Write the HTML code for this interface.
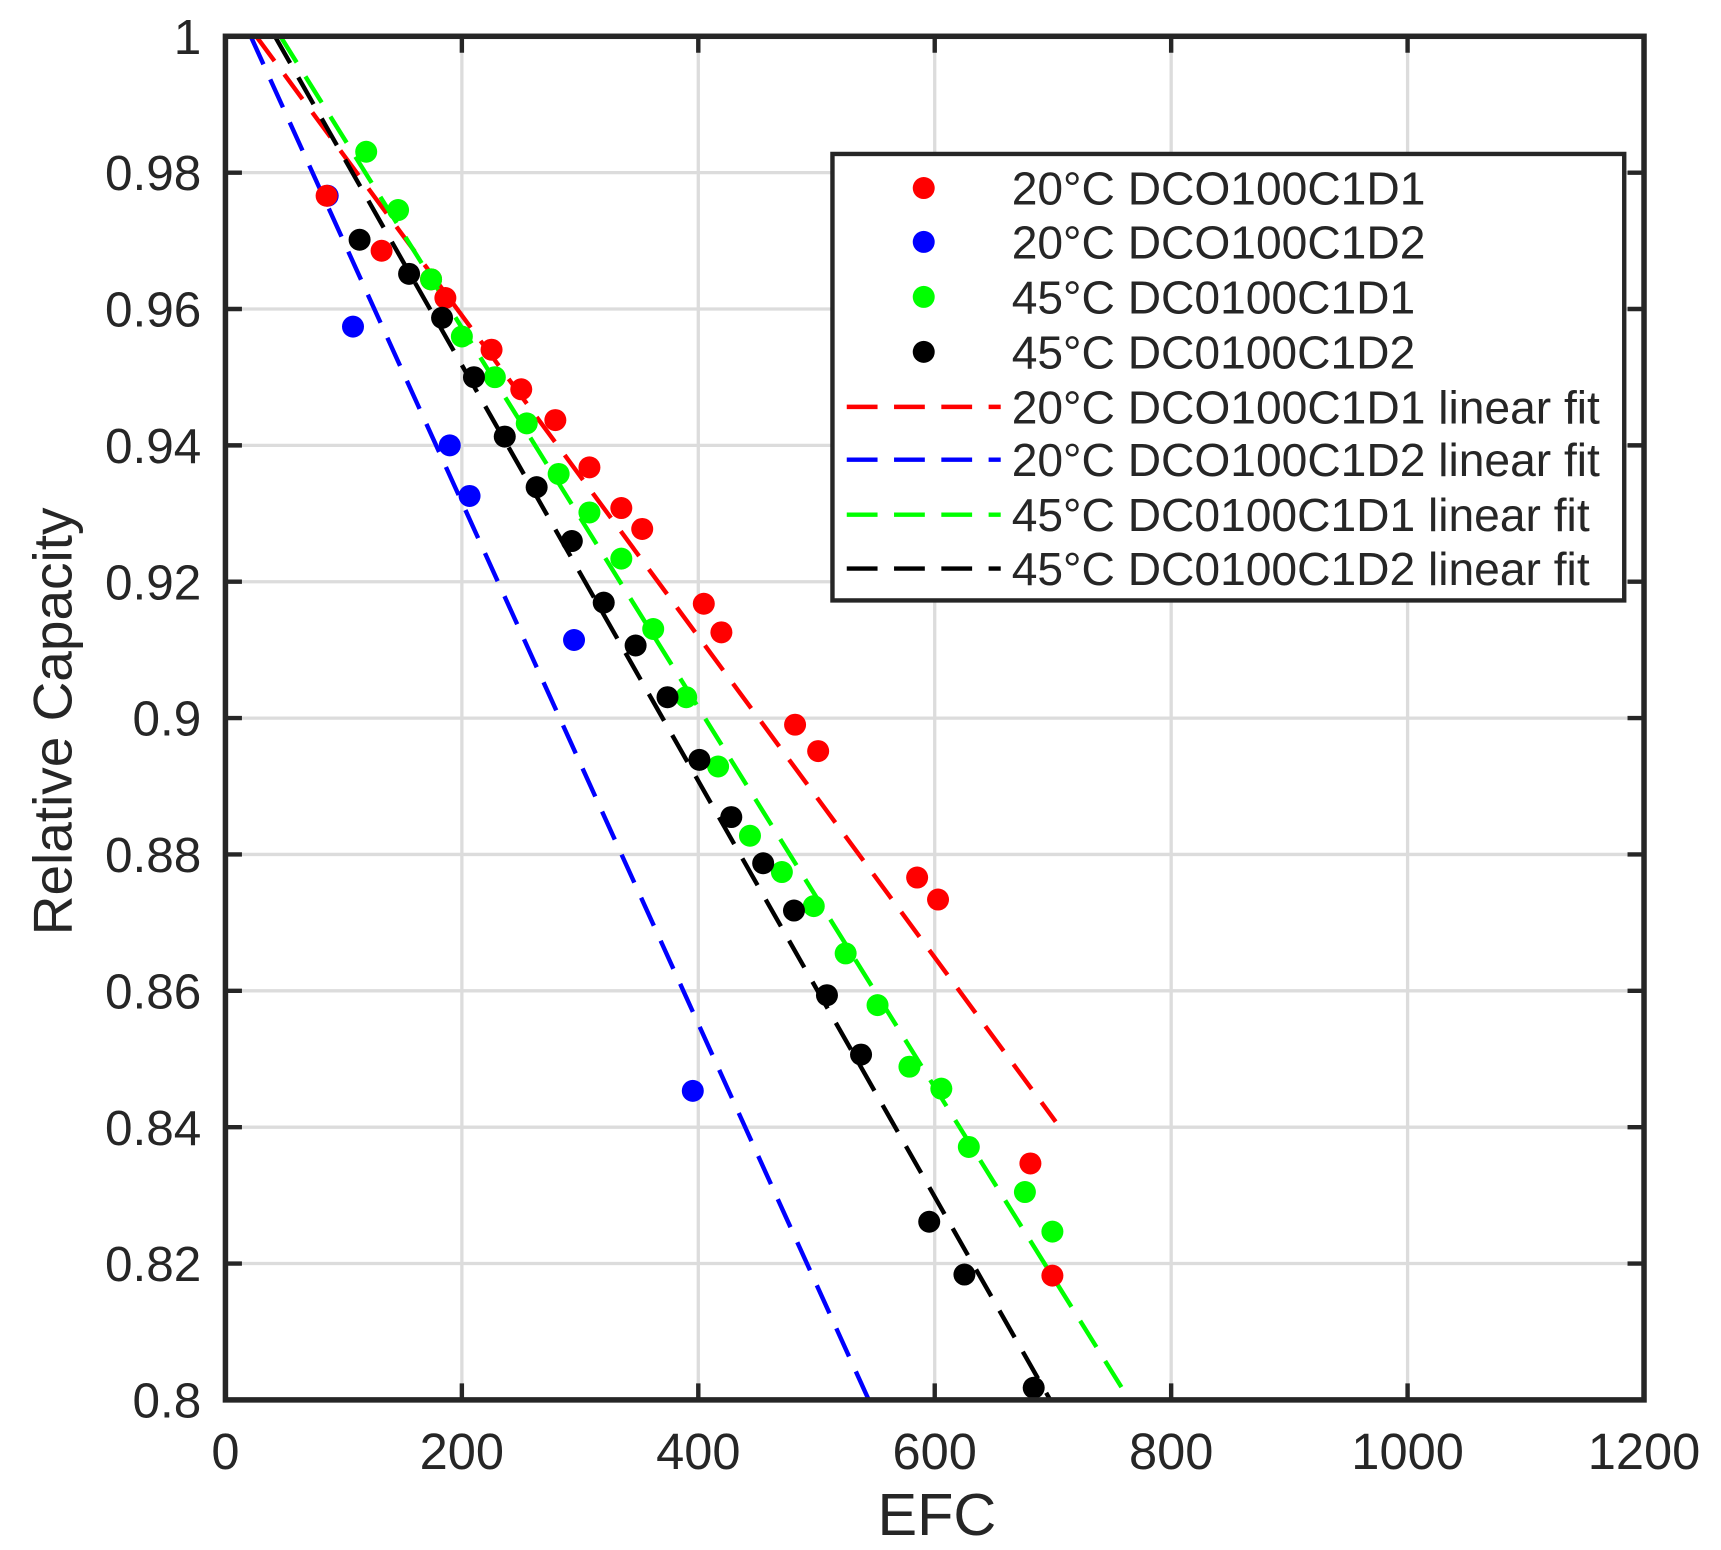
<!DOCTYPE html>
<html><head><style>html,body{margin:0;padding:0;background:#fff}svg{display:block}</style></head><body>
<svg width="1721" height="1550" viewBox="0 0 1565 1409.5" preserveAspectRatio="none" xmlns="http://www.w3.org/2000/svg" font-family="Liberation Sans, sans-serif" fill="#262626">
<g stroke="#dcdcdc" stroke-width="3">
<line x1="420" y1="33" x2="420" y2="1273"/><line x1="635" y1="33" x2="635" y2="1273"/><line x1="850" y1="33" x2="850" y2="1273"/><line x1="1065" y1="33" x2="1065" y2="1273"/><line x1="1280" y1="33" x2="1280" y2="1273"/>
<line x1="205" y1="157" x2="1495" y2="157"/><line x1="205" y1="281" x2="1495" y2="281"/><line x1="205" y1="405" x2="1495" y2="405"/><line x1="205" y1="529" x2="1495" y2="529"/><line x1="205" y1="653" x2="1495" y2="653"/><line x1="205" y1="777" x2="1495" y2="777"/><line x1="205" y1="901" x2="1495" y2="901"/><line x1="205" y1="1025" x2="1495" y2="1025"/><line x1="205" y1="1149" x2="1495" y2="1149"/>
</g>
<g stroke-width="4" stroke-dasharray="28,15" fill="none">
<line x1="233" y1="33" x2="960" y2="1020" stroke="#ff0000"/>
<line x1="228" y1="33" x2="790" y2="1273" stroke="#0000ff"/>
<line x1="255" y1="33" x2="1027" y2="1273" stroke="#00ff00"/>
<line x1="250" y1="33" x2="955" y2="1273" stroke="#000"/>
</g>
<g fill="#0000ff">
<circle cx="298" cy="178" r="10"/><circle cx="321" cy="297" r="10"/><circle cx="409" cy="405" r="10"/><circle cx="427" cy="451" r="10"/><circle cx="522" cy="582" r="10"/><circle cx="630" cy="992" r="10"/>
</g>
<g fill="#ff0000">
<circle cx="297" cy="178" r="10"/><circle cx="347" cy="228" r="10"/><circle cx="392" cy="254" r="10"/><circle cx="405" cy="271" r="10"/><circle cx="447" cy="318" r="10"/><circle cx="474" cy="354" r="10"/><circle cx="505" cy="382" r="10"/><circle cx="536" cy="425" r="10"/><circle cx="565" cy="462" r="10"/><circle cx="584" cy="481" r="10"/><circle cx="640" cy="549" r="10"/><circle cx="656" cy="575" r="10"/><circle cx="723" cy="659" r="10"/><circle cx="744" cy="683" r="10"/><circle cx="834" cy="798" r="10"/><circle cx="853" cy="818" r="10"/><circle cx="937" cy="1058" r="10"/><circle cx="957" cy="1160" r="10"/>
</g>
<g fill="#00ff00">
<circle cx="333" cy="138" r="10"/><circle cx="362" cy="191" r="10"/><circle cx="392" cy="254" r="10"/><circle cx="420" cy="306" r="10"/><circle cx="450" cy="343" r="10"/><circle cx="479" cy="385" r="10"/><circle cx="508" cy="431" r="10"/><circle cx="536" cy="466" r="10"/><circle cx="565" cy="508" r="10"/><circle cx="594" cy="572" r="10"/><circle cx="624" cy="634" r="10"/><circle cx="653" cy="697" r="10"/><circle cx="682" cy="760" r="10"/><circle cx="711" cy="793" r="10"/><circle cx="740" cy="824" r="10"/><circle cx="769" cy="867" r="10"/><circle cx="798" cy="914" r="10"/><circle cx="827" cy="970" r="10"/><circle cx="856" cy="990" r="10"/><circle cx="881" cy="1043" r="10"/><circle cx="932" cy="1084" r="10"/><circle cx="957" cy="1120" r="10"/>
</g>
<g fill="#000">
<circle cx="327" cy="218" r="10"/><circle cx="372" cy="249" r="10"/><circle cx="402" cy="289" r="10"/><circle cx="431" cy="343" r="10"/><circle cx="459" cy="397" r="10"/><circle cx="488" cy="443" r="10"/><circle cx="520" cy="492" r="10"/><circle cx="549" cy="548" r="10"/><circle cx="578" cy="587" r="10"/><circle cx="607" cy="634" r="10"/><circle cx="636" cy="691" r="10"/><circle cx="665" cy="743" r="10"/><circle cx="694" cy="785" r="10"/><circle cx="722" cy="828" r="10"/><circle cx="752" cy="905" r="10"/><circle cx="783" cy="959" r="10"/><circle cx="845" cy="1111" r="10"/><circle cx="877" cy="1159" r="10"/><circle cx="940" cy="1262" r="10"/>
</g>
<g stroke="#262626" stroke-width="4">
<path d="M205 157h15M205 281h15M205 405h15M205 529h15M205 653h15M205 777h15M205 901h15M205 1025h15M205 1149h15M1495 157h-15M1495 281h-15M1495 405h-15M1495 529h-15M1495 653h-15M1495 777h-15M1495 901h-15M1495 1025h-15M1495 1149h-15M420 1273v-15M635 1273v-15M850 1273v-15M1065 1273v-15M1280 1273v-15M420 33v15M635 33v15M850 33v15M1065 33v15M1280 33v15"/>
</g>
<rect x="205" y="33" width="1290" height="1240" fill="none" stroke="#262626" stroke-width="5"/>
<g font-size="45" text-anchor="end">
<text x="183" y="49">1</text><text x="183" y="173">0.98</text><text x="183" y="297">0.96</text><text x="183" y="421">0.94</text><text x="183" y="545">0.92</text><text x="183" y="669">0.9</text><text x="183" y="793">0.88</text><text x="183" y="917">0.86</text><text x="183" y="1041">0.84</text><text x="183" y="1165">0.82</text><text x="183" y="1289">0.8</text>
</g>
<g font-size="46" text-anchor="middle">
<text x="205" y="1336">0</text><text x="420" y="1336">200</text><text x="635" y="1336">400</text><text x="850" y="1336">600</text><text x="1065" y="1336">800</text><text x="1280" y="1336">1000</text><text x="1495" y="1336">1200</text>
<text x="852" y="1396" font-size="54">EFC</text>
<text transform="translate(65,656) rotate(-90)" font-size="50">Relative Capacity</text>
</g>
<rect x="757" y="140" width="720" height="406" fill="#fff" stroke="#262626" stroke-width="4"/>
<circle cx="840" cy="171" r="10" fill="#f00"/><circle cx="840" cy="220" r="10" fill="#00f"/><circle cx="840" cy="270" r="10" fill="#0f0"/><circle cx="840" cy="320" r="10" fill="#000"/>
<g stroke-width="4" stroke-dasharray="28,15">
<line x1="770" y1="370" x2="910" y2="370" stroke="#f00"/><line x1="770" y1="418" x2="910" y2="418" stroke="#00f"/><line x1="770" y1="468" x2="910" y2="468" stroke="#0f0"/><line x1="770" y1="517" x2="910" y2="517" stroke="#000"/>
</g>
<g font-size="42">
<text x="920" y="186">20°C DCO100C1D1</text><text x="920" y="235">20°C DCO100C1D2</text><text x="920" y="285">45°C DC0100C1D1</text><text x="920" y="335">45°C DC0100C1D2</text>
<text x="920" y="385">20°C DCO100C1D1 linear fit</text><text x="920" y="433">20°C DCO100C1D2 linear fit</text><text x="920" y="483">45°C DC0100C1D1 linear fit</text><text x="920" y="532">45°C DC0100C1D2 linear fit</text>
</g>
</svg>
</body></html>
